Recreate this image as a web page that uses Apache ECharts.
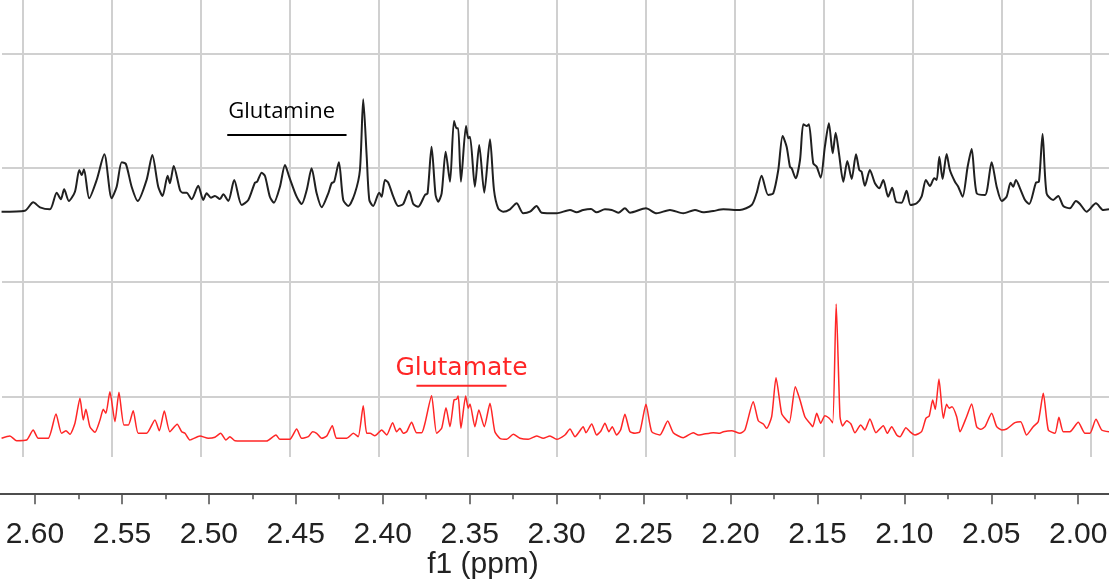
<!DOCTYPE html>
<html><head><meta charset="utf-8">
<script src="https://cdn.jsdelivr.net/npm/echarts@6/dist/echarts.min.js"></script>
<style>html,body{margin:0;padding:0;background:#fff}#c{width:1109px;height:584px}</style>
</head><body><div id="c"></div>
<script>
// chemical shift (ppm), intensity (a.u., baseline ~0)
const glutamineSpectrum = [[2.6192,3.3],[2.6058,4.3],[2.6010,12.7],[2.5971,7.7],[2.5914,5.7],[2.5875,22.3],[2.5851,15.7],[2.5832,25.7],[2.5805,14],[2.5770,23.3],[2.5745,45],[2.5731,40],[2.5718,45.7],[2.5688,16.7],[2.5645,35],[2.5601,60.7],[2.5559,16.7],[2.5530,28.3],[2.5501,52.7],[2.5477,51],[2.5444,28.3],[2.5409,14],[2.5358,35],[2.5325,60],[2.5291,28.3],[2.5266,19],[2.5237,39.3],[2.5224,31.7],[2.5202,49],[2.5166,25],[2.5151,22.3],[2.5128,22.3],[2.5099,15.7],[2.5061,29.3],[2.5032,15],[2.5013,21.7],[2.4988,17.3],[2.4965,19],[2.4936,16],[2.4917,20.7],[2.4888,14],[2.4854,35],[2.4811,10],[2.4773,15],[2.4735,32.3],[2.4722,33.3],[2.4696,42.3],[2.4677,39],[2.4649,18.3],[2.4626,12.3],[2.4591,28.3],[2.4562,50],[2.4538,38.3],[2.4495,18.3],[2.4466,11],[2.4437,25],[2.4409,46.7],[2.4380,21.7],[2.4351,7.7],[2.4313,21.7],[2.4294,31.7],[2.4279,33.3],[2.4252,52.7],[2.4227,15],[2.4198,9],[2.4160,21.7],[2.4131,45],[2.4112,115.7],[2.4092,58.3],[2.4077,15],[2.4055,9],[2.4020,22.3],[2.4006,18.3],[2.3987,35],[2.3968,32.3],[2.3939,18.3],[2.3911,9],[2.3882,11],[2.3849,24.3],[2.3824,11],[2.3796,8.3],[2.3757,20],[2.3742,21.7],[2.3719,68.3],[2.3696,20],[2.3681,13.3],[2.3661,21.7],[2.3638,63.3],[2.3613,33.3],[2.3590,94],[2.3575,86.7],[2.3566,86.7],[2.3550,33.3],[2.3521,89],[2.3508,76.7],[2.3498,78.3],[2.3470,28.3],[2.3445,70],[2.3416,22.3],[2.3383,75.7],[2.3360,25],[2.3336,6.7],[2.3307,3.3],[2.3268,5.7],[2.3230,11.7],[2.3192,1.7],[2.3153,3.3],[2.3115,9],[2.3086,2.3],[2.3000,1.7],[2.2923,5],[2.2885,2.7],[2.2847,5],[2.2802,6],[2.2770,2.7],[2.2722,5.7],[2.2683,5],[2.2645,2.3],[2.2607,6.7],[2.2578,2.3],[2.2486,6.7],[2.2425,1.7],[2.2348,5],[2.2272,1.7],[2.2204,5],[2.2157,2.7],[2.2099,4],[2.2041,5.7],[2.1946,5],[2.1878,10],[2.1850,21.7],[2.1821,39.3],[2.1783,20],[2.1754,21.7],[2.1725,45],[2.1700,79],[2.1677,68.3],[2.1658,48.3],[2.1648,46.7],[2.1625,36.7],[2.1600,55],[2.1581,90.7],[2.1562,89],[2.1549,90.7],[2.1524,51.7],[2.1504,48.3],[2.1481,37.3],[2.1457,68.3],[2.1434,91.7],[2.1412,61.7],[2.1395,82.3],[2.1376,61.7],[2.1351,33.3],[2.1328,54],[2.1303,36],[2.1278,60.7],[2.1259,45],[2.1246,43.3],[2.1227,29.3],[2.1198,45],[2.1169,31.7],[2.1144,26.7],[2.1121,35],[2.1093,18.3],[2.1070,27.3],[2.1048,13.3],[2.1016,12.3],[2.0987,24.3],[2.0964,10],[2.0929,11.7],[2.0901,18.3],[2.0876,35],[2.0853,29],[2.0828,36.7],[2.0814,35],[2.0799,58.3],[2.0780,36],[2.0757,61],[2.0738,45],[2.0709,33.3],[2.0690,28.3],[2.0665,18.3],[2.0636,48.3],[2.0613,66],[2.0584,21.7],[2.0536,20],[2.0498,52.7],[2.0469,28.3],[2.0440,14],[2.0412,18.3],[2.0389,32.3],[2.0374,28.3],[2.0358,35],[2.0335,26.7],[2.0306,15],[2.0282,11],[2.0243,32.3],[2.0226,33.3],[2.0205,81],[2.0182,21.7],[2.0144,15],[2.0115,19],[2.0086,9],[2.0048,6.7],[2.0013,14],[1.9990,11],[1.9952,3.3],[1.9898,11.7],[1.9856,5],[1.9823,5.7]];

const glutamateSpectrum = [[2.6192,3.7],[2.6144,6],[2.6105,1.3],[2.6048,2],[2.6010,12],[2.5981,3.7],[2.5924,3.7],[2.5879,28],[2.5847,8.7],[2.5822,11.3],[2.5799,7.7],[2.5770,18.7],[2.5741,43.7],[2.5722,22],[2.5707,32.7],[2.5684,15.3],[2.5655,9.7],[2.5626,22],[2.5607,32.7],[2.5592,28.7],[2.5569,50.3],[2.5540,20.3],[2.5517,49.7],[2.5488,17],[2.5463,17],[2.5435,31.3],[2.5406,8.7],[2.5358,8.7],[2.5310,22],[2.5285,11.3],[2.5256,31],[2.5224,10.3],[2.5182,17.7],[2.5156,10.3],[2.5137,8.7],[2.5109,2],[2.5051,6],[2.5003,3.7],[2.4965,4.7],[2.4932,8.7],[2.4902,2],[2.4879,5.3],[2.4850,1.3],[2.4745,1],[2.4668,1],[2.4614,7],[2.4591,2.7],[2.4534,2.7],[2.4495,13],[2.4466,3.7],[2.4428,5.3],[2.4403,10.3],[2.4380,8.7],[2.4351,3.7],[2.4322,6],[2.4290,16.3],[2.4265,3.7],[2.4207,3.7],[2.4169,8.7],[2.4141,5.3],[2.4112,36.3],[2.4092,8.7],[2.4073,8.7],[2.4045,6.3],[2.4006,12],[2.3977,7],[2.3943,19.3],[2.3920,10.3],[2.3901,13.7],[2.3882,8.7],[2.3862,10.3],[2.3834,19.7],[2.3805,9.3],[2.3776,9.3],[2.3757,18.7],[2.3719,46.3],[2.3690,8.7],[2.3661,13.7],[2.3636,34.3],[2.3613,15.3],[2.3590,42],[2.3575,42.7],[2.3566,46],[2.3550,13.7],[2.3523,46],[2.3508,33.7],[2.3498,38],[2.3470,15.3],[2.3447,32],[2.3416,15.3],[2.3383,38.7],[2.3355,10.3],[2.3326,3.7],[2.3287,2.7],[2.3249,7.7],[2.3211,3.7],[2.3163,2.7],[2.3115,6],[2.3077,3.7],[2.3038,6],[2.3000,2.7],[2.2952,7],[2.2923,13],[2.2894,5.3],[2.2875,9],[2.2847,15.3],[2.2831,9.3],[2.2798,18],[2.2770,7],[2.2745,11],[2.2722,18.7],[2.2699,10.3],[2.2680,15.3],[2.2655,7],[2.2632,12],[2.2607,27.7],[2.2578,10.3],[2.2549,8.7],[2.2521,10.3],[2.2486,37.7],[2.2453,10.3],[2.2406,7],[2.2361,21],[2.2329,9.3],[2.2272,4.3],[2.2214,9.3],[2.2185,7],[2.2157,7.7],[2.2099,9.3],[2.2061,8.7],[2.2041,10.3],[2.1993,11.3],[2.1946,8.7],[2.1917,12],[2.1869,40.3],[2.1840,21.3],[2.1811,18],[2.1792,13.7],[2.1763,25.3],[2.1738,64.3],[2.1706,28.7],[2.1687,23.7],[2.1662,19.3],[2.1627,55.3],[2.1600,42],[2.1572,25.3],[2.1543,18.7],[2.1527,15.3],[2.1504,28.7],[2.1481,18.7],[2.1457,26.3],[2.1432,23.7],[2.1412,19.3],[2.1392,138],[2.1370,25.3],[2.1355,16],[2.1332,21.3],[2.1307,18],[2.1284,9.3],[2.1251,17],[2.1227,12],[2.1198,23],[2.1163,9.3],[2.1121,16.3],[2.1098,8.7],[2.1073,15.3],[2.1044,7],[2.1025,5.3],[2.0991,14.3],[2.0968,10.3],[2.0939,7],[2.0901,10.3],[2.0876,23.7],[2.0857,26],[2.0837,42],[2.0822,32.7],[2.0801,63],[2.0776,23.7],[2.0757,37.7],[2.0742,33.7],[2.0726,35.3],[2.0699,25.3],[2.0680,10.3],[2.0642,25.3],[2.0613,38],[2.0584,15.3],[2.0561,12.7],[2.0536,15.3],[2.0498,28.7],[2.0469,15.3],[2.0440,12],[2.0412,13],[2.0364,19.3],[2.0331,20.3],[2.0297,7],[2.0259,15.3],[2.0230,20.3],[2.0201,48.7],[2.0172,12],[2.0134,8.7],[2.0111,24.7],[2.0086,10.3],[2.0048,10.3],[2.0000,19.7],[1.9961,8.7],[1.9933,8.7],[1.9898,22.7],[1.9865,12],[1.9823,10.3]];

const axisTitle = 'f1 (ppm)';
const ppmLeft = 2.6201, ppmRight = 1.9823;          // visible window
const majorTicks = [2.60,2.55,2.50,2.45,2.40,2.35,2.30,2.25,2.20,2.15,2.10,2.05,2.00];
const minorTicks = [2.575,2.525,2.475,2.425,2.375,2.325,2.275,2.225,2.175,2.125,2.075,2.025];
// annotation bars: ppm span and intensity level on the corresponding trace
const annotations = [
  {text:'Glutamine', from:2.4894, to:2.4208, level:80, trace:0},
  {text:'Glutamate', from:2.3806, to:2.3288, level:56.3, trace:1}
];

const chart = echarts.init(document.getElementById('c'), null, {renderer:'canvas'});
const gridColor = '#d0d0d0';
const axisColor = '#4d4d4d';
const traceStyle = [
  {color:'#202020', width:2, labelColor:'#000000', font:'22px "Open Sans"', align:'left', gap:23},
  {color:'#ff2626', width:1.5, labelColor:'#ff2626', font:'25px "DejaVu Sans"', align:'center', gap:17.5}
];

chart.setOption({
  animation:false,
  backgroundColor:'#ffffff',
  grid:[
    {left:0, right:0, top:0, bottom:90.7, outerBoundsMode:'none', containLabel:false},
    {left:22.7, right:18.3, top:0, bottom:127, outerBoundsMode:'none', containLabel:false},
    {left:2, right:0, top:53.3, bottom:187.7, outerBoundsMode:'none', containLabel:false}
  ],
  xAxis:[
    {gridIndex:0, type:'value', position:'bottom', inverse:true, min:ppmRight, max:ppmLeft,
     axisLine:{show:true, onZero:false, lineStyle:{color:axisColor, width:2}},
     axisTick:{show:true, length:11, customValues:majorTicks, lineStyle:{color:axisColor, width:1.5}},
     axisLabel:{show:true, customValues:majorTicks, margin:26, fontSize:30,
       fontFamily:'Liberation Sans', color:'#222', formatter:v=>v.toFixed(2)},
     splitLine:{show:false}},
    {gridIndex:0, type:'value', position:'bottom', inverse:true, min:ppmRight, max:ppmLeft,
     axisLine:{show:false, onZero:false},
     axisTick:{show:true, length:6, customValues:minorTicks, lineStyle:{color:axisColor, width:1.5}},
     axisLabel:{show:false}, splitLine:{show:false}},
    {gridIndex:1, type:'value', min:0, max:12, interval:1,
     axisLine:{show:false}, axisTick:{show:false}, axisLabel:{show:false},
     splitLine:{show:true, lineStyle:{color:gridColor, width:2}}},
    {gridIndex:2, type:'value', show:false, min:0, max:1}
  ],
  yAxis:[
    {gridIndex:0, type:'value', show:false, min:-278.3, max:215},
    {gridIndex:0, type:'value', show:false, min:-51.3, max:442},
    {gridIndex:1, type:'value', show:false, min:0, max:1},
    {gridIndex:2, type:'value', min:0, max:3, interval:1,
     axisLine:{show:false}, axisTick:{show:false}, axisLabel:{show:false},
     splitLine:{show:true, lineStyle:{color:gridColor, width:2}}}
  ],
  series:[
    {type:'line', name:'Glutamine', xAxisIndex:0, yAxisIndex:0, data:glutamineSpectrum,
     showSymbol:false, smooth:0.25, lineStyle:{color:traceStyle[0].color, width:traceStyle[0].width}, z:5},
    {type:'line', name:'Glutamate', xAxisIndex:0, yAxisIndex:1, data:glutamateSpectrum,
     showSymbol:false, smooth:0.2, lineStyle:{color:traceStyle[1].color, width:traceStyle[1].width}, z:5}
  ]
});

const gfx = [];
annotations.forEach(a => {
  const st = traceStyle[a.trace];
  const p1 = chart.convertToPixel({xAxisIndex:0, yAxisIndex:a.trace}, [a.from, a.level]);
  const p2 = chart.convertToPixel({xAxisIndex:0, yAxisIndex:a.trace}, [a.to, a.level]);
  gfx.push({type:'line', z:10, shape:{x1:p1[0], y1:p1[1], x2:p2[0], y2:p2[1]},
    style:{stroke:st.labelColor, lineWidth:2}});
  gfx.push({type:'text', z:10, x: st.align === 'left' ? p1[0] + 1 : (p1[0] + p2[0]) / 2, y: p1[1] - st.gap,
    style:{text:a.text, fill:st.labelColor, font:st.font, align:st.align, verticalAlign:'middle'}});
});
gfx.push({type:'text', z:10, x:483, y:565,
  style:{text:axisTitle, fill:'#222', font:'30px "Liberation Sans"', align:'center', verticalAlign:'middle'}});
chart.setOption({graphic:gfx});
</script>
</body></html>
